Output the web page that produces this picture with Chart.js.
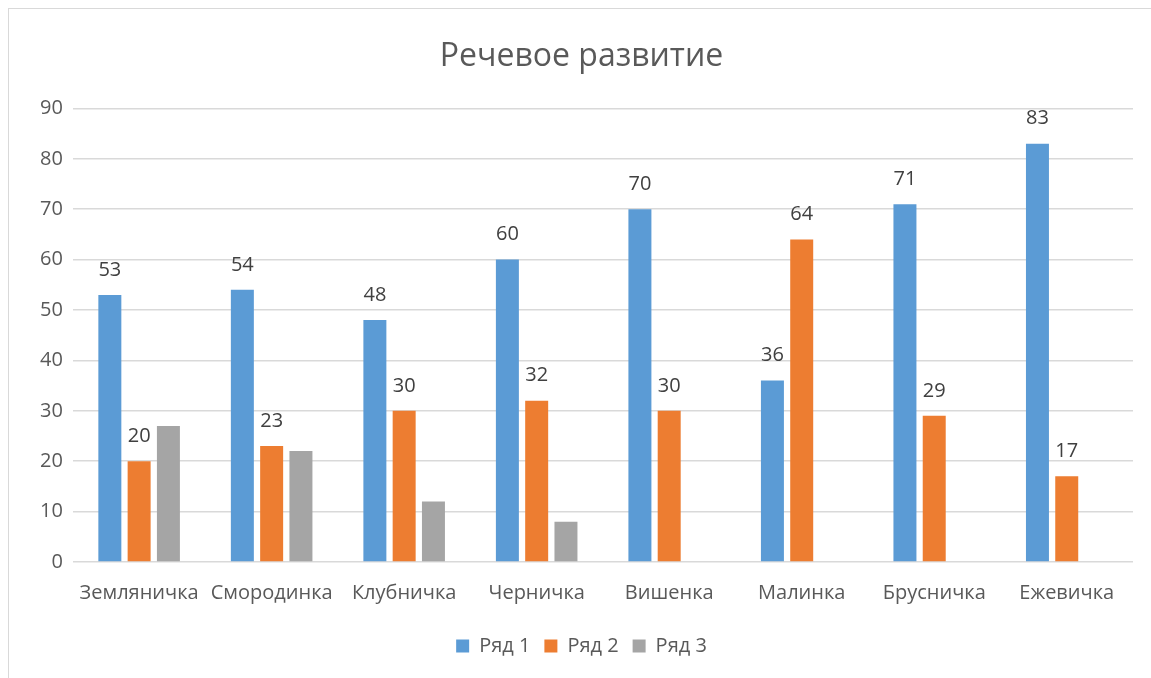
<!DOCTYPE html>
<html>
<head>
<meta charset="utf-8">
<script src="https://cdn.jsdelivr.net/npm/chart.js@4"></script>
<style>
    body { margin: 0; background: #fff; }
    #wrap {
        position: absolute;
        left: 8px;
        top: 8px;
        width: 1143px;
        height: 670px;
        border-left: 1px solid #d9d9d9;
        border-top: 1px solid #d9d9d9;
    }
    canvas { display: block; }
</style>
</head>
<body>
<div id="wrap"><canvas id="chart" width="1143" height="670"></canvas></div>
<script>
const categories = ['Земляничка', 'Смородинка', 'Клубничка', 'Черничка', 'Вишенка', 'Малинка', 'Брусничка', 'Ежевичка'];
const row1 = [53, 54, 48, 60, 70, 36, 71, 83];
const row2 = [20, 23, 30, 32, 30, 64, 29, 17];
const row3 = [27, 22, 12, 8, null, null, null, null];
const seriesNames = ['Ряд 1', 'Ряд 2', 'Ряд 3'];
const yTicks = [0, 10, 20, 30, 40, 50, 60, 70, 80, 90];

const FONT = "'Open Sans', 'DejaVu Sans', sans-serif";

// labels above bars for Ряд 1 and Ряд 2 only
const barLabels = {
    id: 'barLabels',
    afterDatasetsDraw(chart) {
        const ctx = chart.ctx;
        ctx.save();
        ctx.font = `20px ${FONT}`;
        ctx.fillStyle = '#404040';
        ctx.textAlign = 'center';
        ctx.textBaseline = 'middle';
        [0, 1].forEach(di => {
            const meta = chart.getDatasetMeta(di);
            meta.data.forEach((bar, i) => {
                const v = chart.data.datasets[di].data[i];
                if (v == null) return;
                ctx.fillText(String(v), bar.x, bar.y - 25);
            });
        });
        ctx.restore();
    }
};

const ctx = document.getElementById('chart').getContext('2d');
new Chart(ctx, {
    type: 'bar',
    data: {
        labels: categories,
        datasets: [
            { label: seriesNames[0], data: row1, backgroundColor: '#5B9BD5' },
            { label: seriesNames[1], data: row2, backgroundColor: '#ED7D31' },
            { label: seriesNames[2], data: row3, backgroundColor: '#A5A5A5' }
        ]
    },
    options: {
        responsive: false,
        animation: false,
        categoryPercentage: 0.663,
        barPercentage: 0.785,
        layout: {
            padding: { left: 21, right: 19, top: 0, bottom: 13 }
        },
        plugins: {
            title: {
                display: true,
                text: 'Речевое развитие',
                color: '#595959',
                font: { family: FONT, size: 32, weight: 'normal' },
                padding: { top: 29, bottom: 32 }
            },
            legend: {
                position: 'bottom',
                labels: {
                    color: '#595959',
                    font: { family: FONT, size: 20 },
                    boxWidth: 13,
                    boxHeight: 13,
                    padding: 14
                }
            },
            tooltip: { enabled: false }
        },
        scales: {
            x: {
                grid: { display: false },
                border: { display: false },
                afterFit: (axis) => {
                    axis.height += 6;
                },
                ticks: {
                    color: '#595959',
                    font: { family: FONT, size: 20 },
                    maxRotation: 0,
                    autoSkip: false,
                    padding: 11
                }
            },
            y: {
                min: 0,
                max: 90,
                afterBuildTicks: (axis) => {
                    axis.ticks = yTicks.map(v => ({ value: v }));
                },
                grid: { color: '#d9d9d9', lineWidth: 1.5, drawTicks: false },
                border: { display: false },
                ticks: {
                    color: '#595959',
                    font: { family: FONT, size: 20 },
                    padding: 10
                }
            }
        }
    },
    plugins: [barLabels]
});
</script>
</body>
</html>
